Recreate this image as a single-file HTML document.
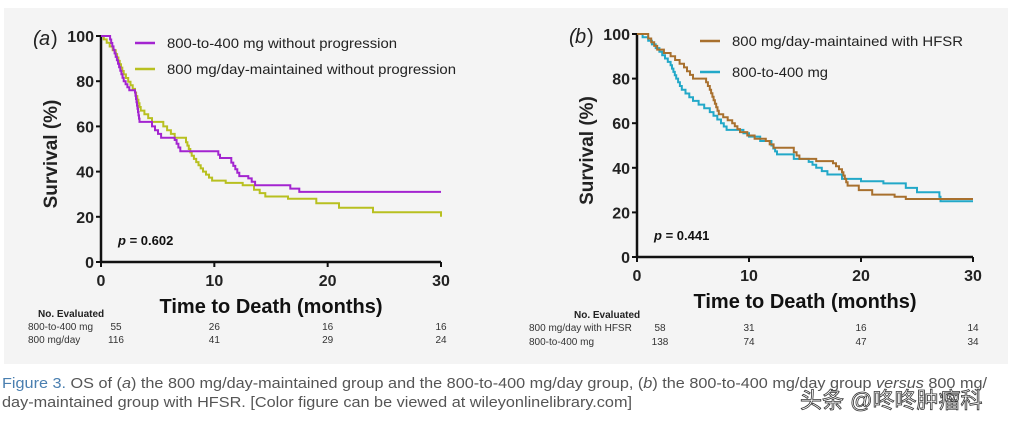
<!DOCTYPE html>
<html><head><meta charset="utf-8"><style>
html,body{margin:0;padding:0;background:#fff;width:1022px;height:422px;overflow:hidden}
svg{display:block}
</style></head><body>
<svg id="s" width="1022" height="422" xmlns="http://www.w3.org/2000/svg" font-family="Liberation Sans, Arial, sans-serif">
<rect x="4" y="8" width="1004" height="356" fill="#f4f4f4"/>
<g id="g"></g>
<text x="2" y="388" font-size="14.5" fill="#555" textLength="985" lengthAdjust="spacingAndGlyphs"><tspan fill="#4a7fb0">Figure 3.</tspan> OS of (<tspan font-style="italic">a</tspan>) the 800 mg/day-maintained group and the 800-to-400 mg/day group, (<tspan font-style="italic">b</tspan>) the 800-to-400 mg/day group <tspan font-style="italic">versus</tspan> 800 mg/</text>
<text x="2" y="407" font-size="14.5" fill="#555" textLength="630" lengthAdjust="spacingAndGlyphs">day-maintained group with HFSR. [Color figure can be viewed at wileyonlinelibrary.com]</text>
<text x="800" y="408" font-size="22" fill="#fff" stroke="#333" stroke-width="0.8" font-family="Liberation Sans, Noto Sans CJK SC, sans-serif">头条 @咚咚肿瘤科</text>
</svg>
<script>
const g=document.getElementById('g');let h='';
function panel(ox,oy,xe,yt,label,series,leg,p,tab){
 const sx=(xe-ox)/30,sy=(oy-yt)/100;
 h+=`<line x1="${ox}" y1="${yt-1}" x2="${ox}" y2="${oy}" stroke="#111" stroke-width="2.5"/><line x1="${ox}" y1="${oy}" x2="${xe}" y2="${oy}" stroke="#111" stroke-width="2.5"/>`;
 for(let v=0;v<=100;v+=20){const y=oy-v*sy;h+=`<line x1="${ox-5}" y1="${y}" x2="${ox}" y2="${y}" stroke="#111" stroke-width="2"/><text x="${ox-7}" y="${y+6}" font-size="16" font-weight="bold" text-anchor="end" fill="#222">${v}</text>`;}
 for(let v=0;v<=30;v+=10){const x=ox+v*sx;h+=`<line x1="${x}" y1="${oy}" x2="${x}" y2="${oy+5}" stroke="#111" stroke-width="2"/><text x="${x}" y="${oy+24}" font-size="16" font-weight="bold" text-anchor="middle" fill="#222">${v}</text>`;}
 h+=`<text x="${ox-68}" y="${yt+9}" font-size="20" font-style="italic" fill="#222">(</text><text x="${ox-62}" y="${yt+9}" font-size="20" font-style="italic" fill="#222">${label}</text><text x="${ox-50}" y="${yt+9}" font-size="20" fill="#222">)</text>`;
 h+=`<text transform="translate(${ox-44},${(oy+yt)/2+5}) rotate(-90)" font-size="19" font-weight="bold" text-anchor="middle" fill="#222">Survival (%)</text>`;
 h+=`<text x="${ox+15*sx}" y="${oy+51}" font-size="20" font-weight="bold" text-anchor="middle" fill="#111">Time to Death (months)</text>`;
 h+=`<text x="${ox+17}" y="${oy-17}" font-size="13" font-weight="bold" fill="#111"><tspan font-style="italic">p</tspan> = ${p}</text>`;
 series.forEach(s=>{let d='M'+ox+' '+(oy-100*sy);let py=100;s.pts.forEach(([t,v])=>{d+=' L'+(ox+t*sx).toFixed(1)+' '+(oy-py*sy).toFixed(1)+' L'+(ox+t*sx).toFixed(1)+' '+(oy-v*sy).toFixed(1);py=v;});h+=`<path d="${d}" fill="none" stroke="${s.c}" stroke-width="2"/>`;});
 leg.forEach((l,i)=>{h+=`<line x1="${l.x}" y1="${l.y}" x2="${l.x+20}" y2="${l.y}" stroke="${l.c}" stroke-width="2.5"/><text x="${l.x+32}" y="${l.y+5}" font-size="14" fill="#222" textLength="${l.w}" lengthAdjust="spacingAndGlyphs">${l.t}</text>`;});
 tab(sx);
}
function steps(a){const r=[];for(let i=1;i<a.length;i++){const[t0,v0]=a[i-1],[t1,v1]=a[i];const n=Math.max(1,Math.round(Math.abs(v0-v1)/1.5));for(let k=1;k<=n;k++){r.push([t0+(t1-t0)*k/n,v0+(v1-v0)*k/n]);}}return r;}
panel(101,262,441,36,'a',[
 {c:'#b8c020',pts:steps([[0,100],[0.5,97],[1.3,92],[2,83],[3,75],[3.5,67],[4.5,62],[5.5,60],[6.5,55],[7.5,53],[8,47],[9,40],[9.8,36],[11,35],[12.5,34],[13.5,32],[14.5,29],[16,29],[16.5,28],[18.5,28],[19,26],[21,24],[24,22],[27,22],[30,20]]).concat([[30,20]])},
 {c:'#a324d0',pts:steps([[0.7,100],[2,80],[2.5,76],[3,75],[3.4,62],[4.5,60],[5.3,55],[6.5,54],[7,49],[10.2,49],[10.5,46],[11.5,44],[12.2,38],[13,37],[13.6,34],[15.9,34],[17.5,31]]).concat([[30,31]])}
],[{x:135,y:43,c:'#a324d0',t:'800-to-400 mg without progression',w:230},{x:135,y:69,c:'#b8c020',t:'800 mg/day-maintained without progression',w:289}],'0.602',sx=>{
 h+=`<text x="38" y="317" font-size="10" font-weight="bold" fill="#222">No. Evaluated</text>`;
 const rows=[['800-to-400 mg',55,26,16,16],['800 mg/day',116,41,29,24]];
 rows.forEach((r,i)=>{const y=330+i*13;h+=`<text x="28" y="${y}" font-size="10" fill="#333">${r[0]}</text>`;[0,10,20,30].forEach((t,j)=>{h+=`<text x="${j==0?116:101+t*sx}" y="${y}" font-size="10" text-anchor="middle" fill="#333">${r[j+1]}</text>`;});});
});
panel(637,257,973,34,'b',[
 {c:'#22a8c8',pts:steps([[0,100],[1,97],[2,92],[3,86],[3.5,80],[4,75],[5,70],[6.5,65],[7.5,60],[8,57],[9,57],[10,54],[11,52],[12,50],[12.5,46],[14,44],[15,44],[16,40],[17,37],[18.3,35],[20,34],[22,33],[24,31],[25,29],[27,27],[27.1,25]]).concat([[30,25]])},
 {c:'#a8702e',pts:steps([[0,100],[1,98],[1.8,93],[3,90],[4.2,85],[5,80],[6,80],[6.5,75],[7.3,64],[8.5,60],[9.2,56],[10.5,53],[11.5,52],[12.2,49],[14,47],[14.5,44],[16,43],[17.5,42],[18.3,38],[18.8,32],[19.8,30],[21,28],[23,27],[24,26]]).concat([[30,26]])}
],[{x:700,y:41,c:'#a8702e',t:'800 mg/day-maintained with HFSR',w:231},{x:700,y:72,c:'#22a8c8',t:'800-to-400 mg',w:96}],'0.441',sx=>{
 h+=`<text x="574" y="318" font-size="10" font-weight="bold" fill="#222">No. Evaluated</text>`;
 const rows=[['800 mg/day with HFSR',58,31,16,14],['800-to-400 mg',138,74,47,34]];
 rows.forEach((r,i)=>{const y=331+i*14;h+=`<text x="529" y="${y}" font-size="10" fill="#333">${r[0]}</text>`;[0,10,20,30].forEach((t,j)=>{h+=`<text x="${j==0?660:637+t*sx}" y="${y}" font-size="10" text-anchor="middle" fill="#333">${r[j+1]}</text>`;});});
});
g.innerHTML=h;
</script>
</body></html>
